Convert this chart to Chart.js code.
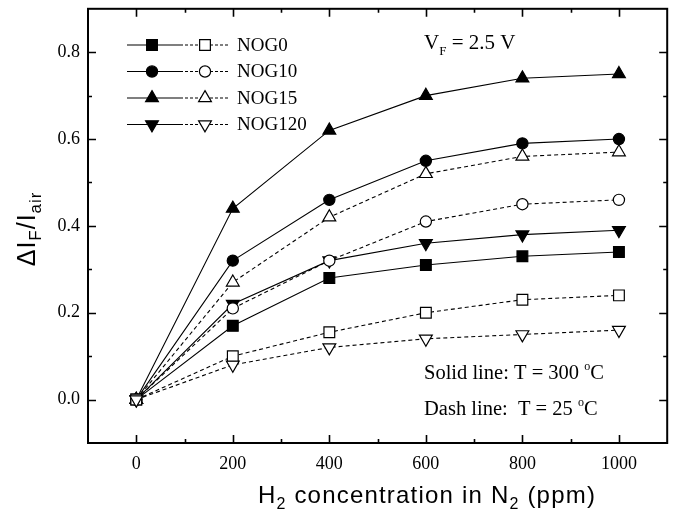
<!DOCTYPE html>
<html><head><meta charset="utf-8">
<script src="https://cdn.jsdelivr.net/npm/chart.js@4/dist/chart.umd.min.js"></script>
<style>html,body{margin:0;padding:0;background:#fff}canvas{display:block}</style>
</head><body>
<canvas id="c" width="676" height="517"></canvas>
<script>
// ---- data ----
const concentrations = [0, 200, 400, 600, 800, 1000];
const nog0Solid   = [0, 0.17, 0.28, 0.31, 0.33, 0.34];
const nog0Dash    = [0, 0.10, 0.155, 0.20, 0.23, 0.24];
const nog10Solid  = [0, 0.32, 0.46, 0.55, 0.59, 0.60];
const nog10Dash   = [0, 0.21, 0.32, 0.41, 0.45, 0.46];
const nog15Solid  = [0, 0.44, 0.62, 0.70, 0.74, 0.75];
const nog15Dash   = [0, 0.27, 0.42, 0.52, 0.56, 0.57];
const nog120Solid = [0, 0.22, 0.32, 0.36, 0.38, 0.39];
const nog120Dash  = [0, 0.08, 0.12, 0.14, 0.15, 0.16];
const seriesNames = ['NOG0', 'NOG10', 'NOG15', 'NOG120'];
const xTickLabels = [0, 200, 400, 600, 800, 1000];
const xMinorTicks = [100, 300, 500, 700, 900];
const yTickLabels = [0.0, 0.2, 0.4, 0.6, 0.8];
const yMinorTicks = [0.1, 0.3, 0.5, 0.7];

// ---- marker styles ----
const markers = [
  {style: 'rect', rot: 0, r: 7.6},
  {style: 'circle', rot: 0, r: 5.6},
  {style: 'triangle', rot: 0, r: 7.4},
  {style: 'triangle', rot: 180, r: 7.4}
];

function makeSet(name, values, mk, dashed) {
  return {
    label: name + (dashed ? ' (25 °C)' : ' (300 °C)'),
    data: concentrations.map((x, i) => ({x: x, y: values[i]})),
    borderColor: '#000', borderWidth: 1.1,
    borderDash: dashed ? [4, 3] : [],
    pointStyle: mk.style, pointRotation: mk.rot, pointRadius: mk.r,
    pointBackgroundColor: dashed ? '#fff' : '#000',
    pointBorderColor: '#000', pointBorderWidth: 1.2,
    tension: 0, fill: false
  };
}

const datasets = [
  makeSet('NOG120', nog120Dash, markers[3], true),
  makeSet('NOG0', nog0Dash, markers[0], true),
  makeSet('NOG10', nog10Dash, markers[1], true),
  makeSet('NOG15', nog15Dash, markers[2], true),
  makeSet('NOG0', nog0Solid, markers[0], false),
  makeSet('NOG120', nog120Solid, markers[3], false),
  makeSet('NOG10', nog10Solid, markers[1], false),
  makeSet('NOG15', nog15Solid, markers[2], false)
];

const SERIF = '"Liberation Serif", "Times New Roman", serif';
const SANS = '"Liberation Sans", Arial, sans-serif';

function drawSegs(ctx, segs, x, y, align, spacing) {
  ctx.letterSpacing = (spacing || 0) + 'px';
  let total = 0;
  segs.forEach(s => { ctx.font = s.size + 'px ' + s.fam; s.w = ctx.measureText(s.t).width; total += s.w; });
  let cx = align === 'center' ? x - total / 2 : x;
  ctx.textAlign = 'left';
  ctx.textBaseline = 'alphabetic';
  segs.forEach(s => { ctx.font = s.size + 'px ' + s.fam; ctx.fillText(s.t, cx, y + (s.dy || 0)); cx += s.w; });
  ctx.letterSpacing = '0px';
}

function markerPath(ctx, style, rot, r, x, y) {
  ctx.beginPath();
  if (style === 'circle') {
    ctx.arc(x, y, r, 0, Math.PI * 2);
  } else if (style === 'rect') {
    const s = Math.SQRT1_2 * r;
    ctx.rect(x - s, y - s, 2 * s, 2 * s);
  } else {
    let a = rot * Math.PI / 180;
    ctx.moveTo(x + Math.sin(a) * r, y - Math.cos(a) * r);
    a += 2 * Math.PI / 3;
    ctx.lineTo(x + Math.sin(a) * r, y - Math.cos(a) * r);
    a += 2 * Math.PI / 3;
    ctx.lineTo(x + Math.sin(a) * r, y - Math.cos(a) * r);
  }
  ctx.closePath();
}

const decor = {
  id: 'decor',
  afterDraw(chart) {
    const ctx = chart.ctx;
    const a = chart.chartArea;
    const xs = chart.scales.x, ys = chart.scales.y;
    ctx.save();
    ctx.strokeStyle = '#000';
    ctx.fillStyle = '#000';
    // frame
    ctx.lineWidth = 2;
    ctx.setLineDash([]);
    ctx.strokeRect(a.left, a.top, a.right - a.left, a.bottom - a.top);
    // ticks
    ctx.lineWidth = 1.6;
    ctx.beginPath();
    const tk = (vals, len, isX) => vals.forEach(v => {
      if (isX) {
        const p = Math.round(xs.getPixelForValue(v)) + 0.5;
        ctx.moveTo(p, a.bottom); ctx.lineTo(p, a.bottom - len);
        ctx.moveTo(p, a.top); ctx.lineTo(p, a.top + len);
      } else {
        const p = Math.round(ys.getPixelForValue(v)) + 0.5;
        ctx.moveTo(a.left, p); ctx.lineTo(a.left + len, p);
        ctx.moveTo(a.right, p); ctx.lineTo(a.right - len, p);
      }
    });
    tk(xTickLabels, 8, true); tk(xMinorTicks, 4, true);
    tk(yTickLabels, 8, false); tk(yMinorTicks, 4, false);
    ctx.stroke();

    // legend
    const rows = [45, 71.5, 98, 124.5];
    seriesNames.forEach((name, i) => {
      const y = rows[i];
      const mk = markers[i];
      ctx.lineWidth = 1.1;
      ctx.setLineDash([]);
      ctx.beginPath(); ctx.moveTo(127, y); ctx.lineTo(180, y); ctx.stroke();
      ctx.setLineDash([3, 2]);
      ctx.beginPath(); ctx.moveTo(180, y); ctx.lineTo(229, y); ctx.stroke();
      ctx.setLineDash([]);
      ctx.lineWidth = 1.2;
      markerPath(ctx, mk.style, mk.rot, mk.r, 152, y);
      ctx.fillStyle = '#000'; ctx.fill(); ctx.stroke();
      markerPath(ctx, mk.style, mk.rot, mk.r, 205, y);
      ctx.fillStyle = '#fff'; ctx.fill(); ctx.stroke();
      ctx.fillStyle = '#000';
      ctx.font = '19px ' + SERIF;
      ctx.textAlign = 'left'; ctx.textBaseline = 'middle';
      ctx.fillText(name, 237, y + 1);
    });

    // annotations
    ctx.fillStyle = '#000';
    drawSegs(ctx, [
      {t: 'V', size: 21, fam: SERIF},
      {t: 'F', size: 13, fam: SERIF, dy: 6},
      {t: ' = 2.5 V', size: 21, fam: SERIF}
    ], 424, 49, 'left');
    drawSegs(ctx, [
      {t: 'Solid line: T = 300 ', size: 20.5, fam: SERIF},
      {t: 'o', size: 12, fam: SERIF, dy: -9},
      {t: 'C', size: 20.5, fam: SERIF}
    ], 424, 379, 'left');
    drawSegs(ctx, [
      {t: 'Dash line:  T = 25 ', size: 20.5, fam: SERIF},
      {t: 'o', size: 12, fam: SERIF, dy: -9},
      {t: 'C', size: 20.5, fam: SERIF}
    ], 424, 415, 'left');

    // x title
    drawSegs(ctx, [
      {t: 'H', size: 24, fam: SANS},
      {t: '2', size: 16, fam: SANS, dy: 6},
      {t: ' concentration in N', size: 24, fam: SANS},
      {t: '2', size: 16, fam: SANS, dy: 6},
      {t: ' (ppm)', size: 24, fam: SANS}
    ], 427, 503, 'center', 1.2);

    // y title
    ctx.translate(35, (a.top + a.bottom) / 2 + 3);
    ctx.rotate(-Math.PI / 2);
    drawSegs(ctx, [
      {t: '\u0394I', size: 25, fam: SANS},
      {t: 'F', size: 17, fam: SANS, dy: 6},
      {t: '/I', size: 25, fam: SANS},
      {t: 'air', size: 17, fam: SANS, dy: 6}
    ], 0, 0, 'center', 1);
    ctx.restore();
  }
};

new Chart(document.getElementById('c'), {
  type: 'line',
  data: {datasets: datasets},
  options: {
    responsive: false,
    animation: false,
    devicePixelRatio: 1,
    layout: {padding: {top: 8, right: 4, left: 0, bottom: 0}},
    plugins: {legend: {display: false}, tooltip: {enabled: false}},
    scales: {
      x: {
        type: 'linear', min: -100, max: 1100,
        afterBuildTicks: s => { s.ticks = xTickLabels.map(v => ({value: v})); },
        afterFit: s => { s.height = 74; s.paddingLeft = 0; s.paddingRight = 0; },
        grid: {display: false, drawTicks: false},
        border: {display: false},
        ticks: {autoSkip: false, maxRotation: 0, padding: 10, color: '#000',
                font: {family: SERIF, size: 18}, callback: v => String(v)}
      },
      y: {
        type: 'linear', min: -0.1, max: 0.9,
        afterBuildTicks: s => { s.ticks = yTickLabels.map(v => ({value: v})); },
        afterFit: s => { s.width = 88; s.paddingTop = 0; s.paddingBottom = 0; },
        grid: {display: false, drawTicks: false},
        border: {display: false},
        ticks: {autoSkip: false, padding: 8, color: '#000',
                font: {family: SERIF, size: 18}, callback: v => Number(v).toFixed(1)}
      }
    }
  },
  plugins: [decor]
});
</script>
</body></html>
